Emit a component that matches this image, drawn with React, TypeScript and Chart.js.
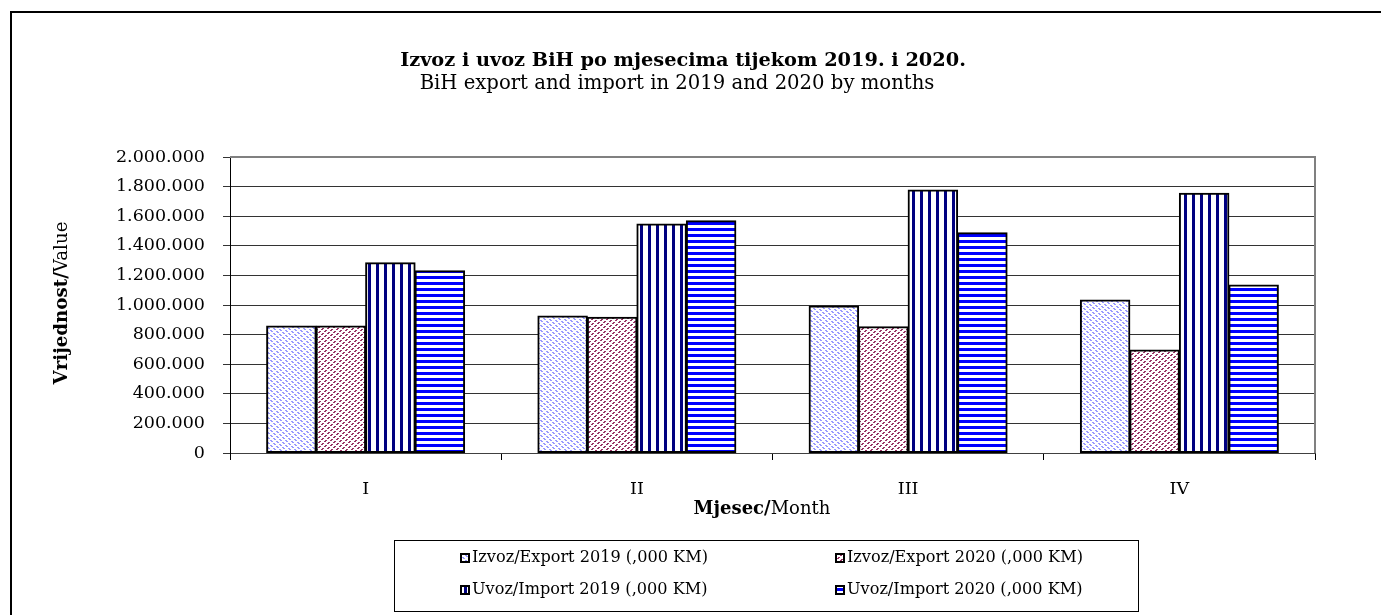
import React, { useEffect, useRef } from "react";
import { Chart, registerables } from "chart.js";

Chart.register(...registerables);

const months = ["I", "II", "III", "IV"];
const export2019 = [858000, 926000, 993000, 1034000];
const export2020 = [858000, 917000, 853000, 696000];
const import2019 = [1286000, 1547000, 1777000, 1755000];
const import2020 = [1232000, 1570000, 1489000, 1135000];
const seriesLabels = [
  "Izvoz/Export 2019 (,000 KM)",
  "Izvoz/Export 2020 (,000 KM)",
  "Uvoz/Import 2019 (,000 KM)",
  "Uvoz/Import 2020 (,000 KM)",
];
const yMax = 2000000;
const yStep = 200000;

const FAMILY = '"DejaVu Serif", serif';

function makeTile(w: number, h: number, draw: (c: CanvasRenderingContext2D) => void) {
  const cv = document.createElement("canvas");
  cv.width = w;
  cv.height = h;
  const c = cv.getContext("2d")!;
  c.fillStyle = "#fff";
  c.fillRect(0, 0, w, h);
  draw(c);
  return cv;
}

function makePatterns(ctx: CanvasRenderingContext2D) {
  const n = 15;
  const diagDown = makeTile(n, n, (c) => {
    c.fillStyle = "#9999ff";
    for (const off of [0, 5, 10]) {
      for (let k = 0; k < n; k++) {
        if (k % 3 === 2) continue;
        const y = (k + off) % n;
        c.fillRect(k, y, 1, 1);
        c.fillRect((k + 1) % n, y, 1, 1);
      }
    }
  });
  const diagUp = makeTile(n, n, (c) => {
    c.fillStyle = "#993366";
    for (const off of [0, 5, 10]) {
      for (let k = 0; k < n; k++) {
        if (k % 3 === 2) continue;
        const y = (off - k + 2 * n) % n;
        c.fillRect(k, y, 1, 1);
        c.fillRect((k + 1) % n, y, 1, 1);
      }
    }
  });
  const vert = makeTile(8, 1, (c) => {
    c.fillStyle = "#000080";
    c.fillRect(0, 0, 3, 1);
  });
  const horiz = makeTile(1, 6, (c) => {
    c.fillStyle = "#0000ff";
    c.fillRect(0, 0, 1, 3);
  });
  return [diagDown, diagUp, vert, horiz].map((t) => ctx.createPattern(t, "repeat")!);
}

type Part = { text: string; bold: boolean };

function fitSize(ctx: CanvasRenderingContext2D, parts: Part[], width: number) {
  let w = 0;
  for (const p of parts) {
    ctx.font = `${p.bold ? "bold " : ""}100px ${FAMILY}`;
    w += ctx.measureText(p.text).width;
  }
  return (100 * width) / w;
}

function drawParts(
  ctx: CanvasRenderingContext2D,
  parts: Part[],
  size: number,
  x: number,
  y: number,
  align: "center" | "left"
) {
  let total = 0;
  const widths: number[] = [];
  for (const p of parts) {
    ctx.font = `${p.bold ? "bold " : ""}${size}px ${FAMILY}`;
    const w = ctx.measureText(p.text).width;
    widths.push(w);
    total += w;
  }
  let cx = align === "center" ? x - total / 2 : x;
  ctx.textAlign = "left";
  ctx.textBaseline = "middle";
  ctx.fillStyle = "#000";
  parts.forEach((p, i) => {
    ctx.font = `${p.bold ? "bold " : ""}${size}px ${FAMILY}`;
    ctx.fillText(p.text, cx, y);
    cx += widths[i];
  });
}

function fmt(v: number) {
  return String(Math.round(v)).replace(/\B(?=(\d{3})+(?!\d))/g, ".");
}

export default function App() {
  const ref = useRef<HTMLCanvasElement | null>(null);

  useEffect(() => {
    const canvas = ref.current!;
    const ctx = canvas.getContext("2d")!;
    const patterns = makePatterns(ctx);

    const decor = {
      id: "decor",
      beforeDraw(chart: any) {
        const c = chart.ctx;
        c.save();
        c.fillStyle = "#fff";
        c.fillRect(0, 0, chart.width, chart.height);
        c.restore();
      },
      afterDraw(chart: any) {
        const c: CanvasRenderingContext2D = chart.ctx;
        const a = chart.chartArea;
        c.save();
        // plot area border (top & right)
        c.strokeStyle = "#808080";
        c.lineWidth = 2;
        c.beginPath();
        c.moveTo(a.left, a.top);
        c.lineTo(a.right, a.top);
        c.lineTo(a.right, a.bottom);
        c.stroke();
        // outer frame
        c.strokeStyle = "#000";
        c.lineWidth = 2;
        c.strokeRect(11, 12, 3000, 3000);

        // titles
        const t1: Part[] = [{ text: "Izvoz i uvoz BiH po mjesecima tijekom 2019. i 2020.", bold: true }];
        drawParts(c, t1, fitSize(c, t1, 566), 683, 61, "center");
        const t2: Part[] = [{ text: "BiH export and import in 2019 and 2020 by months", bold: false }];
        drawParts(c, t2, fitSize(c, t2, 515), 677, 84, "center");

        // x axis title
        const xt: Part[] = [
          { text: "Mjesec/", bold: true },
          { text: "Month", bold: false },
        ];
        drawParts(c, xt, fitSize(c, xt, 137), 762, 509, "center");

        // y axis title
        const yt: Part[] = [
          { text: "Vrijednost/", bold: true },
          { text: "Value", bold: false },
        ];
        const ys = fitSize(c, yt, 163);
        c.save();
        c.translate(62, 303);
        c.rotate(-Math.PI / 2);
        drawParts(c, yt, ys, 0, 0, "center");
        c.restore();

        // legend box
        const lx = 394, ly = 540, lw = 1138 - 394, lh = 611 - 540;
        c.strokeStyle = "#000";
        c.lineWidth = 1;
        c.strokeRect(lx + 0.5, ly + 0.5, lw, lh);
        const ls = fitSize(c, [{ text: seriesLabels[0], bold: false }], 236);
        const cols = [460, 835];
        const rows = [558, 590];
        chart.data.datasets.forEach((ds: any, i: number) => {
          const mx = cols[i % 2];
          const my = rows[Math.floor(i / 2)];
          c.fillStyle = ds.backgroundColor;
          c.fillRect(mx, my - 5, 10, 10);
          c.strokeStyle = "#000";
          c.lineWidth = 2;
          c.strokeRect(mx + 1, my - 4, 8, 8);
          drawParts(c, [{ text: ds.label, bold: false }], ls, mx + 12, my, "left");
        });
        c.restore();
      },
    };

    const tickFont = { family: FAMILY, size: 17.5 };

    const chart = new Chart(canvas, {
      type: "bar",
      data: {
        labels: months,
        datasets: [export2019, export2020, import2019, import2020].map((d, i) => ({
          label: seriesLabels[i],
          data: d,
          backgroundColor: patterns[i] as any,
          borderColor: "#000",
          borderWidth: 2,
          borderSkipped: false,
          inflateAmount: 0.5,
          barPercentage: 1,
          categoryPercentage: 0.73,
        })),
      },
      options: {
        responsive: false,
        animation: false,
        events: [],
        layout: { padding: { top: 157, right: 66, bottom: 92, left: 0 } },
        plugins: {
          legend: { display: false },
          title: { display: false },
          tooltip: { enabled: false },
        },
        scales: {
          x: {
            type: "category",
            offset: true,
            afterFit: (s: any) => {
              s.height = 70;
            },
            grid: {
              display: true,
              offset: true,
              drawOnChartArea: false,
              drawTicks: true,
              tickLength: 7,
              color: "#000",
            },
            border: { display: true, color: "#404040", width: 1 },
            ticks: { font: tickFont, color: "#000", padding: 19 },
          },
          y: {
            min: 0,
            max: yMax,
            afterFit: (s: any) => {
              s.width = 230;
            },
            grid: { color: "#333", lineWidth: 1, tickLength: 7, drawTicks: true },
            border: { display: true, color: "#000", width: 1 },
            ticks: {
              stepSize: yStep,
              font: tickFont,
              color: "#000",
              padding: 18,
              callback: (v: any) => fmt(Number(v)),
            },
          },
        },
      },
      plugins: [decor],
    });

    return () => chart.destroy();
  }, []);

  return (
    <div style={{ position: "fixed", left: 0, top: 0, width: 1381, height: 615, background: "#fff" }}>
      <canvas ref={ref} width={1381} height={615} style={{ display: "block", width: 1381, height: 615 }} />
    </div>
  );
}
